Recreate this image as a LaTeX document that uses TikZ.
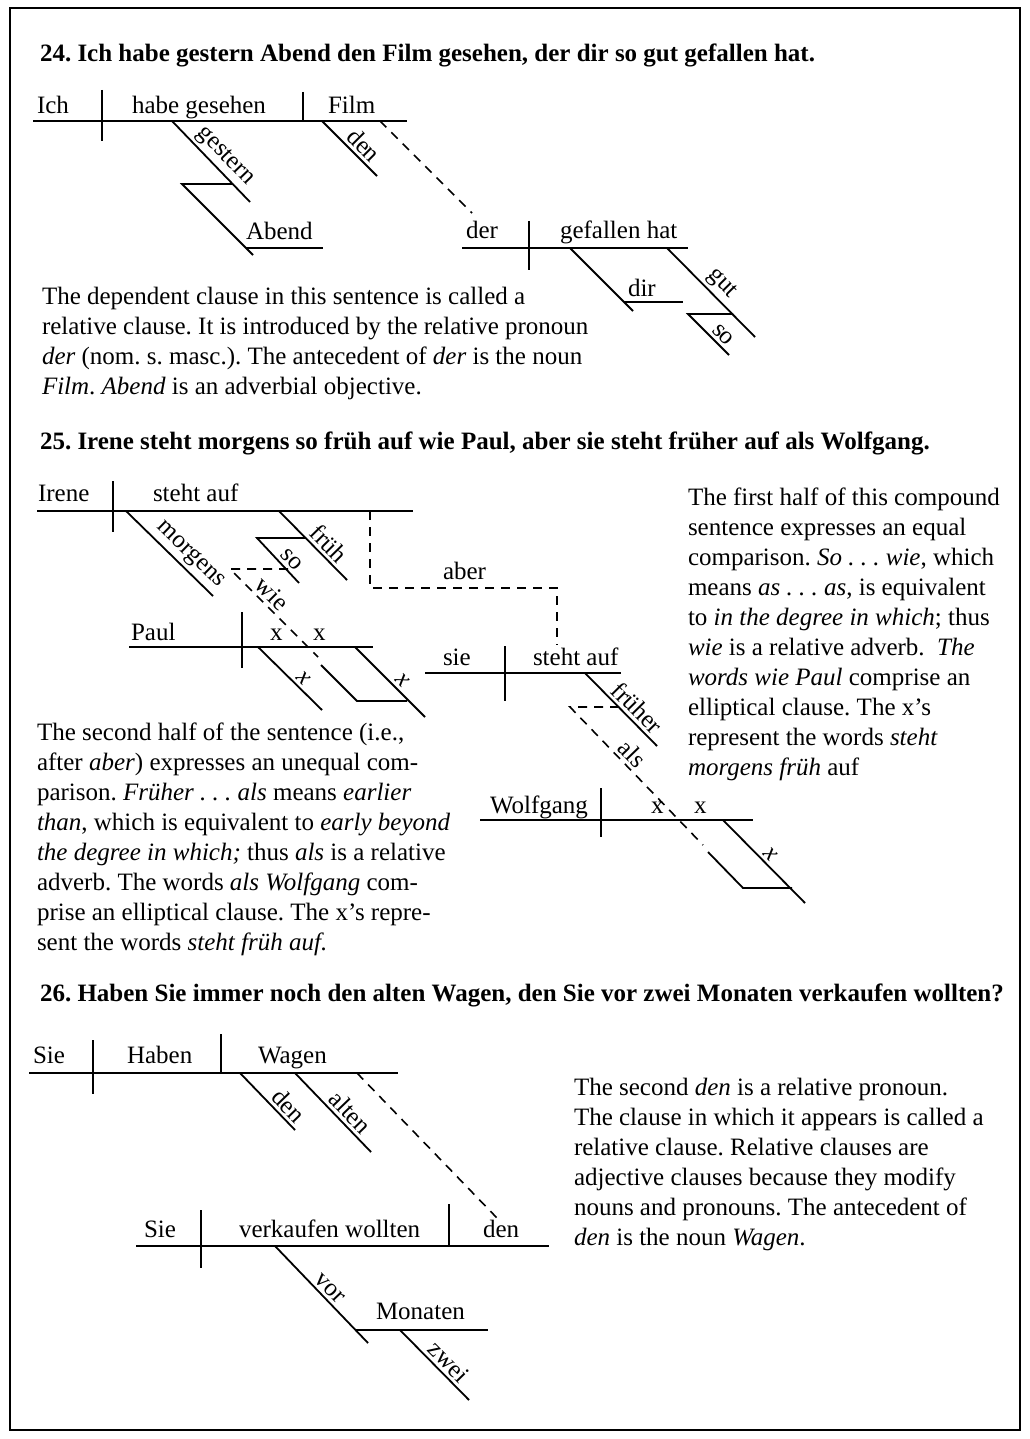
\documentclass[tikz,border=0pt]{standalone}
\usepackage{fontspec}
\setmainfont{Liberation Serif}
\begin{document}
\frenchspacing
\begin{tikzpicture}[x=1pt,y=-1pt,
  every node/.style={inner sep=0pt, outer sep=0pt, font=\fontsize{25}{30}\selectfont},
  ln/.style={line width=1.8pt},
  dsh/.style={line width=1.6pt, dash pattern=on 9pt off 7pt},
  wd/.style={anchor=base west},
  lbl/.style={sloped, above=4pt},
  hd/.style={anchor=base west, font=\fontsize{25}{30}\selectfont\bfseries},
  para/.style={anchor=north west, align=left}]
\useasboundingbox[fill=white] (0,0) rectangle (1029,1439);
\draw[line width=2pt] (10,8) rectangle (1020,1430);

% ---------------- 24 ----------------
\node[hd] (h24) at (40,62) {24. Ich habe gestern Abend den Film gesehen, der dir so gut gefallen hat.};
\coordinate (A1) at (33,121); \coordinate (A2) at (407,121);
\coordinate (Ad1) at (102,90); \coordinate (Ad2) at (102,141);
\coordinate (Ad3) at (303,92); \coordinate (Ad4) at (303,121);
\coordinate (Ag1) at (172,121); \coordinate (Ag2) at (250,202);
\coordinate (As1) at (233,184); \coordinate (As2) at (182,184); \coordinate (As3) at (253,255);
\coordinate (Ab1) at (246,248); \coordinate (Ab2) at (323,248);
\coordinate (Ae1) at (322,121); \coordinate (Ae2) at (377,176);
\coordinate (Ar1) at (380,121); \coordinate (Ar2) at (472,213);
\coordinate (B1) at (462,248); \coordinate (B2) at (688,248);
\coordinate (Bd1) at (529,221); \coordinate (Bd2) at (529,270);
\coordinate (Bi1) at (570,248); \coordinate (Bi2) at (633,311);
\coordinate (Bb1) at (624,302); \coordinate (Bb2) at (683,302);
\coordinate (Bg1) at (667,248); \coordinate (Bg2) at (755,337);
\coordinate (Bs1) at (733,314); \coordinate (Bs2) at (688,314); \coordinate (Bs3) at (729,355);

\draw[ln] (A1) -- (A2);
\draw[ln] (Ad1) -- (Ad2);
\draw[ln] (Ad3) -- (Ad4);
\draw[ln] (Ag1) -- node[lbl,pos=0.55] (tgestern) {gestern} (Ag2);
\draw[ln] (As1) -- (As2) -- (As3);
\draw[ln] (Ab1) -- (Ab2);
\draw[ln] (Ae1) -- node[lbl,pos=0.6] (tden1) {den} (Ae2);
\draw[dsh] (Ar1) -- (Ar2);
\draw[ln] (B1) -- (B2);
\draw[ln] (Bd1) -- (Bd2);
\draw[ln] (Bi1) -- (Bi2);
\draw[ln] (Bb1) -- (Bb2);
\draw[ln] (Bg1) -- node[lbl,pos=0.51] (tgut) {gut} (Bg2);
\draw[ln] (Bs1) -- (Bs2) -- node[lbl,pos=0.68] (tso1) {so} (Bs3);

\node[wd] (tIch) at (37,114) {Ich};
\node[wd] (thabe) at (132,114) {habe gesehen};
\node[wd] (tFilm) at (328,114) {Film};
\node[wd] (tAbend) at (246,240) {Abend};
\node[wd] (tder) at (466,239) {der};
\node[wd] (tgef) at (560,239) {gefallen hat};
\node[wd] (tdir) at (628,296) {dir};

\node[para] (p24) at (42,287) {The dependent clause in this sentence is called a\\
relative clause. It is introduced by the relative pronoun\\
\textit{der} (nom. s. masc.). The antecedent of \textit{der} is the noun\\
\textit{Film}. \textit{Abend} is an adverbial objective.};

% ---------------- 25 ----------------
\node[hd] (h25) at (40,449) {25. Irene steht morgens so früh auf wie Paul, aber sie steht früher auf als Wolfgang.};
\coordinate (C1) at (37,511); \coordinate (C2) at (413,511);
\coordinate (Cd1) at (113,481); \coordinate (Cd2) at (113,532);
\coordinate (Cm1) at (126,511); \coordinate (Cm2) at (213,596);
\coordinate (Cf1) at (279,511); \coordinate (Cf2) at (347,580);
\coordinate (Cs1) at (306,538); \coordinate (Cs2) at (257,538); \coordinate (Cs3) at (299,583);
\coordinate (Cw0) at (288,569); \coordinate (Cw1) at (230,569); \coordinate (Cw2) at (318,657);
\coordinate (Cw3) at (321,665); \coordinate (Cw4) at (357,701); \coordinate (Cw5) at (407,701);
\coordinate (P1) at (129,647); \coordinate (P2) at (373,647);
\coordinate (Pd1) at (242,612); \coordinate (Pd2) at (242,668);
\coordinate (Px1) at (258,647); \coordinate (Px2) at (322,710);
\coordinate (Py1) at (355,647); \coordinate (Py2) at (425,717);
\coordinate (Ca1) at (370,511); \coordinate (Ca2) at (370,588); \coordinate (Ca3) at (557,588); \coordinate (Ca4) at (557,645);
\coordinate (S1) at (425,673); \coordinate (S2) at (621,673);
\coordinate (Sd1) at (505,646); \coordinate (Sd2) at (505,701);
\coordinate (Sf1) at (585,673); \coordinate (Sf2) at (657,746);
\coordinate (Sa0) at (619,707); \coordinate (Sa1) at (570,707); \coordinate (Sa2) at (703,845);
\coordinate (Sa3) at (708,852); \coordinate (Sa4) at (743,888); \coordinate (Sa5) at (792,888);
\coordinate (W1) at (480,820); \coordinate (W2) at (753,820);
\coordinate (Wd1) at (601,788); \coordinate (Wd2) at (601,837);
\coordinate (Wx1) at (723,820); \coordinate (Wx2) at (805,903);

\draw[ln] (C1) -- (C2);
\draw[ln] (Cd1) -- (Cd2);
\draw[ln] (Cm1) -- node[lbl,pos=0.63] (tmorgens) {morgens} (Cm2);
\draw[ln] (Cf1) -- node[lbl,pos=0.6] (tfrueh) {früh} (Cf2);
\draw[ln] (Cs1) -- (Cs2) -- node[lbl,pos=0.64] (tso2) {so} (Cs3);
\draw[dsh] (Cw0) -- (Cw1) -- node[lbl,pos=0.38] (twie) {wie} (Cw2);
\draw[ln] (Cw3) -- (Cw4) -- (Cw5);
\draw[ln] (P1) -- (P2);
\draw[ln] (Pd1) -- (Pd2);
\draw[ln] (Px1) -- node[lbl,pos=0.6] (tx1) {\textit{x}} (Px2);
\draw[ln] (Py1) -- node[lbl,pos=0.58] (tx2) {\textit{x}} (Py2);
\draw[dsh] (Ca1) -- (Ca2) -- (Ca3) -- (Ca4);
\draw[ln] (S1) -- (S2);
\draw[ln] (Sd1) -- (Sd2);
\draw[ln] (Sf1) -- node[lbl,pos=0.6] (tfrueher) {früher} (Sf2);
\draw[dsh] (Sa0) -- (Sa1) -- node[lbl,pos=0.4] (tals) {als} (Sa2);
\draw[ln] (Sa3) -- (Sa4) -- (Sa5);
\draw[ln] (W1) -- (W2);
\draw[ln] (Wd1) -- (Wd2);
\draw[ln] (Wx1) -- node[lbl,pos=0.5] (tx3) {\textit{x}} (Wx2);

\node[wd] (tIrene) at (38,501) {Irene};
\node[wd] (tsteht1) at (153,501) {steht auf};
\node[wd] (tPaul) at (131,640) {Paul};
\node[wd] (tpx1) at (270,640) {x};
\node[wd] (tpx2) at (313,640) {x};
\node[wd] (taber) at (443,579) {aber};
\node[wd] (tsie) at (443,665) {sie};
\node[wd] (tsteht2) at (533,665) {steht auf};
\node[wd] (tWolf) at (490,813) {Wolfgang};
\node[wd] (twx1) at (651,813) {x};
\node[wd] (twx2) at (694,813) {x};

\node[para] (p25a) at (688,488) {The first half of this compound\\
sentence expresses an equal\\
comparison. \textit{So . . . wie}, which\\
means \textit{as . . . as}, is equivalent\\
to \textit{in the degree in which}; thus\\
\textit{wie} is a relative adverb.\ \ \textit{The}\\
\textit{words wie Paul} comprise an\\
elliptical clause. The x’s\\
represent the words \textit{steht}\\
\textit{morgens früh} auf};

\node[para] (p25b) at (37,723) {The second half of the sentence (i.e.,\\
after \textit{aber}) expresses an unequal com-\\
parison. \textit{Früher . . . als} means \textit{earlier}\\
\textit{than}, which is equivalent to \textit{early beyond}\\
\textit{the degree in which;} thus \textit{als} is a relative\\
adverb. The words \textit{als Wolfgang} com-\\
prise an elliptical clause. The x’s repre-\\
sent the words \textit{steht früh auf.}};

% ---------------- 26 ----------------
\node[hd] (h26) at (40,1001) {26. Haben Sie immer noch den alten Wagen, den Sie vor zwei Monaten verkaufen wollten?};
\coordinate (D1) at (29,1073); \coordinate (D2) at (398,1073);
\coordinate (Dd1) at (93,1040); \coordinate (Dd2) at (93,1094);
\coordinate (Dd3) at (221,1034); \coordinate (Dd4) at (221,1073);
\coordinate (De1) at (240,1073); \coordinate (De2) at (295,1130);
\coordinate (Dl1) at (295,1073); \coordinate (Dl2) at (371,1152);
\coordinate (Dr1) at (357,1073); \coordinate (Dr2) at (497,1218);
\coordinate (E1) at (136,1246); \coordinate (E2) at (549,1246);
\coordinate (Ed1) at (201,1210); \coordinate (Ed2) at (201,1268);
\coordinate (Ed3) at (449,1204); \coordinate (Ed4) at (449,1246);
\coordinate (Ev1) at (275,1246); \coordinate (Ev2) at (368,1343);
\coordinate (M1) at (356,1330); \coordinate (M2) at (488,1330);
\coordinate (Mz1) at (400,1330); \coordinate (Mz2) at (469,1400);

\draw[ln] (D1) -- (D2);
\draw[ln] (Dd1) -- (Dd2);
\draw[ln] (Dd3) -- (Dd4);
\draw[ln] (De1) -- node[lbl,pos=0.72] (tden2) {den} (De2);
\draw[ln] (Dl1) -- node[lbl,pos=0.61] (talten) {alten} (Dl2);
\draw[dsh] (Dr1) -- (Dr2);
\draw[ln] (E1) -- (E2);
\draw[ln] (Ed1) -- (Ed2);
\draw[ln] (Ed3) -- (Ed4);
\draw[ln] (Ev1) -- node[lbl,pos=0.51] (tvor) {vor} (Ev2);
\draw[ln] (M1) -- (M2);
\draw[ln] (Mz1) -- node[lbl,pos=0.58] (tzwei) {zwei} (Mz2);

\node[wd] (tSie1) at (33,1063) {Sie};
\node[wd] (tHaben) at (127,1063) {Haben};
\node[wd] (tWagen) at (258,1063) {Wagen};
\node[wd] (tSie2) at (144,1237) {Sie};
\node[wd] (tverk) at (239,1237) {verkaufen wollten};
\node[wd] (tden3) at (483,1237) {den};
\node[wd] (tMon) at (376,1319) {Monaten};

\node[para] (p26) at (574,1078) {The second \textit{den} is a relative pronoun.\\
The clause in which it appears is called a\\
relative clause. Relative clauses are\\
adjective clauses because they modify\\
nouns and pronouns. The antecedent of\\
\textit{den} is the noun \textit{Wagen}.};
\end{tikzpicture}
\end{document}
